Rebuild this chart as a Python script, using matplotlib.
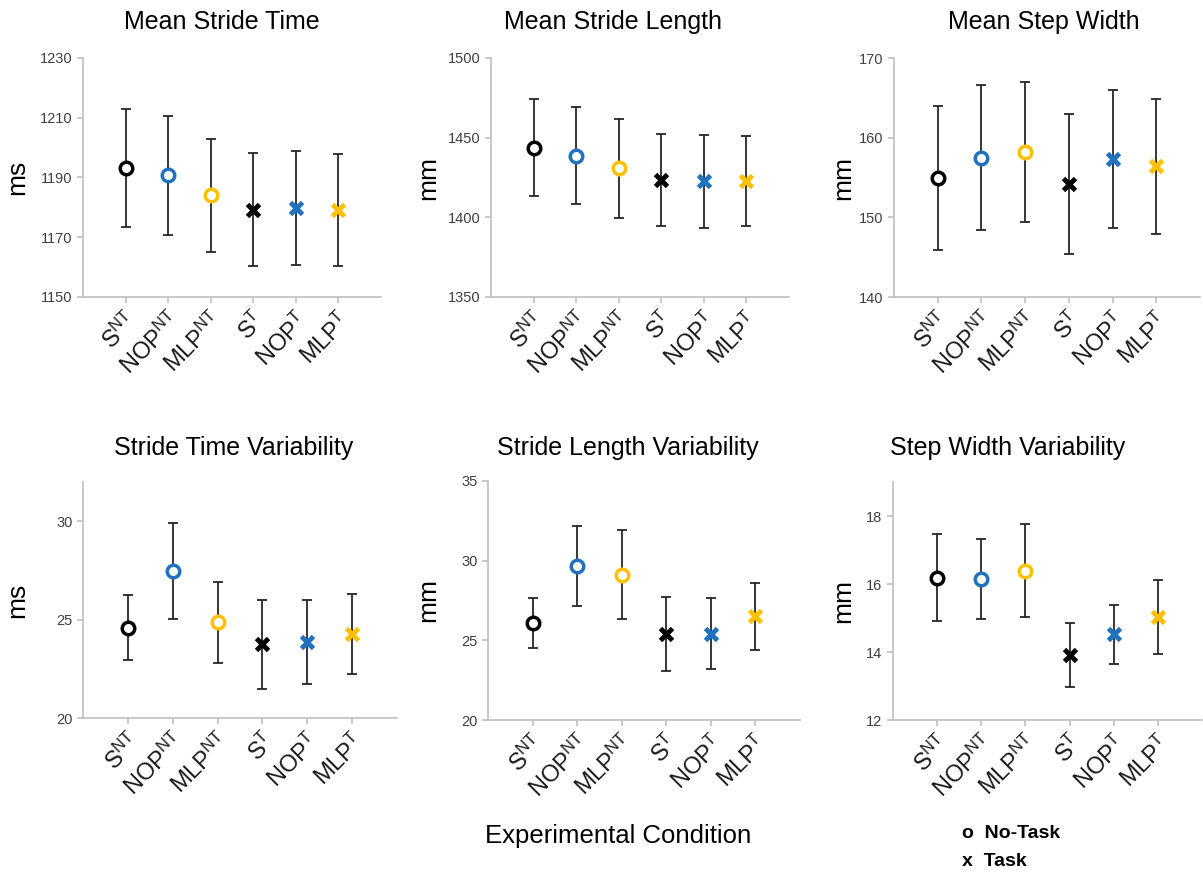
import matplotlib
matplotlib.use("Agg")
import matplotlib.pyplot as plt

plt.rcParams['font.family'] = ['Liberation Sans', 'DejaVu Sans']
plt.rcParams['mathtext.fontset'] = 'custom'
plt.rcParams['mathtext.rm'] = 'Liberation Sans'

conditions = ["S", "NOP", "MLP", "S", "NOP", "MLP"]
cond_sub = ["NT", "NT", "NT", "T", "T", "T"]
colors = ["#000000", "#1F72C0", "#FFC000", "#000000", "#1F72C0", "#FFC000"]
markers = ["o", "o", "o", "x", "x", "x"]

titles = ["Mean Stride Time", "Mean Stride Length", "Mean Step Width",
          "Stride Time Variability", "Stride Length Variability", "Step Width Variability"]
units = ["ms", "mm", "mm", "ms", "mm", "mm"]

stride_time_mean = [1193.2, 1190.7, 1184.0, 1179.2, 1179.8, 1179.2]
stride_time_err = [19.8, 19.8, 19.0, 18.9, 19.0, 18.8]
stride_len_mean = [1443.8, 1438.7, 1430.8, 1423.6, 1422.5, 1422.7]
stride_len_err = [30.4, 30.3, 31.0, 29.0, 29.2, 28.3]
step_width_mean = [154.9, 157.5, 158.2, 154.2, 157.3, 156.4]
step_width_err = [9.05, 9.15, 8.8, 8.8, 8.65, 8.5]
st_var_mean = [24.6, 27.48, 24.86, 23.74, 23.87, 24.28]
st_var_err = [1.64, 2.44, 2.05, 2.26, 2.12, 2.04]
sl_var_mean = [26.06, 29.67, 29.12, 25.4, 25.42, 26.5]
sl_var_err = [1.57, 2.5, 2.79, 2.33, 2.22, 2.12]
sw_var_mean = [16.19, 16.14, 16.39, 13.9, 14.52, 15.03]
sw_var_err = [1.27, 1.17, 1.37, 0.94, 0.86, 1.1]

means = [stride_time_mean, stride_len_mean, step_width_mean, st_var_mean, sl_var_mean, sw_var_mean]
errs = [stride_time_err, stride_len_err, step_width_err, st_var_err, sl_var_err, sw_var_err]
ylims = [(1150, 1230), (1350, 1500), (140, 170), (20, 32), (20, 35), (12, 19)]
yticks = [[1150, 1170, 1190, 1210, 1230], [1350, 1400, 1450, 1500], [140, 150, 160, 170],
          [20, 25, 30], [20, 25, 30, 35], [12, 14, 16, 18]]

W, H = 1203, 875
fig = plt.figure(figsize=(W / 100, H / 100), dpi=100)

# axes boxes in pixels: left, right, top, bottom
boxes = [(83, 381, 58, 297), (491, 789, 58, 297), (894, 1200, 58, 297),
         (83, 397, 482, 718), (488, 800, 481, 720), (893, 1202, 482, 720)]
title_pos = [(222, 22), (613, 22), (1044, 22), (234, 448), (628, 448), (1008, 448)]
ylabel_x = [17, 428, 843, 17, 428, 843]

gray = "#BFBFBF"
for i in range(6):
    l, r, t, b = boxes[i]
    ax = fig.add_axes([l / W, 1 - b / H, (r - l) / W, (b - t) / H])
    x = list(range(1, 7))
    for j in range(6):
        ax.errorbar(x[j], means[i][j], yerr=errs[i][j], fmt='none', ecolor="#262626",
                    elinewidth=1.3, capsize=3.5, capthick=1.3, zorder=2)
        if markers[j] == "o":
            ax.plot(x[j], means[i][j], marker="o", markersize=9, markerfacecolor="white",
                    markeredgecolor=colors[j], markeredgewidth=2.5, zorder=3)
        else:
            ax.plot(x[j], means[i][j], marker="x", markersize=8.5, color=colors[j],
                    markeredgewidth=3.5, zorder=3)
    ax.set_xlim(0, 7)
    ax.set_ylim(*ylims[i])
    ax.set_yticks(yticks[i])
    ax.set_yticklabels([str(v) for v in yticks[i]], fontsize=10.5, color="#404040")
    ax.set_xticks(x)
    labels = [r"$\mathregular{%s^{%s}}$" % (c, s) for c, s in zip(conditions, cond_sub)]
    ax.set_xticklabels(labels, rotation=45, ha="right", rotation_mode="anchor",
                       fontsize=17, color="#1a1a1a")
    for sp in ["top", "right"]:
        ax.spines[sp].set_visible(False)
    for sp in ["left", "bottom"]:
        ax.spines[sp].set_color(gray)
        ax.spines[sp].set_linewidth(1.2)
    ax.tick_params(axis="both", color=gray, length=4, width=1.2)
    ax.tick_params(axis="x", pad=4)
    fig.text(title_pos[i][0] / W, 1 - title_pos[i][1] / H, titles[i], fontsize=18,
             ha="center", va="center")
    fig.text(ylabel_x[i] / W, 1 - ((t + b) / 2) / H, units[i], fontsize=19,
             rotation=90, ha="center", va="center")

fig.text(618 / W, 1 - 836 / H, "Experimental Condition", fontsize=18.5, ha="center", va="center")
fig.text(962 / W, 1 - 833 / H, "o  No-Task", fontsize=14, fontweight="bold",
         ha="left", va="center", family=['Liberation Sans Narrow', 'Liberation Sans'])
fig.text(962 / W, 1 - 862 / H, "x  Task", fontsize=14, fontweight="bold",
         ha="left", va="center", family=['Liberation Sans Narrow', 'Liberation Sans'])

fig.savefig("out.png", dpi=100)
